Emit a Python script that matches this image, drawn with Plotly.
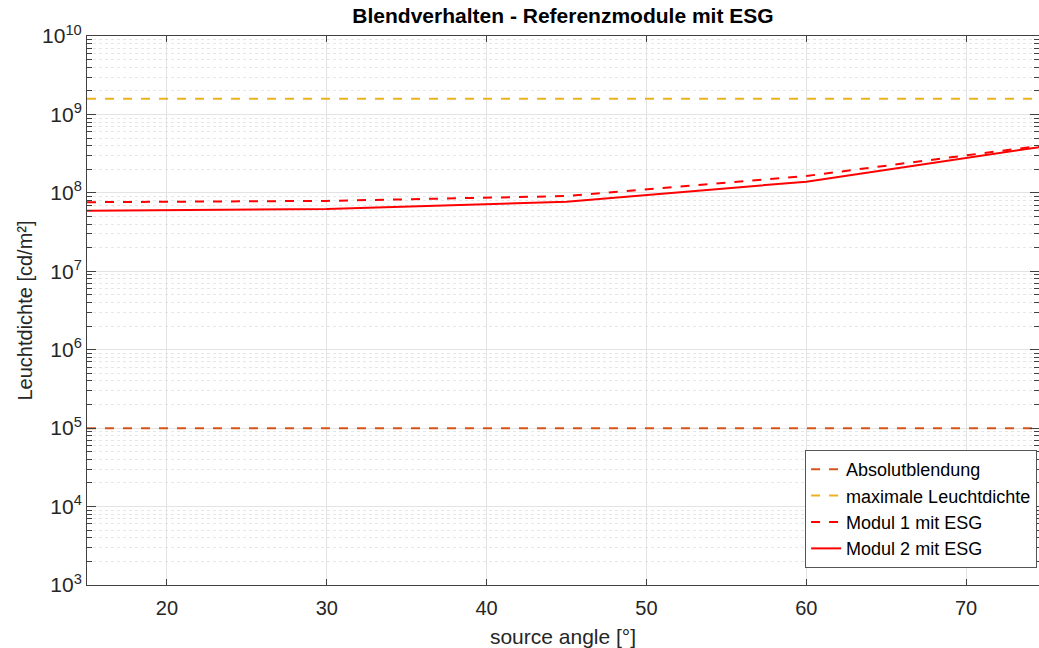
import plotly.graph_objects as go

# Data
angles = [15, 30, 45, 60, 75]
modul1 = [7.6e7, 7.9e7, 9.1e7, 1.64e8, 4.07e8]
modul2 = [5.93e7, 6.22e7, 7.7e7, 1.39e8, 3.94e8]
absolut = 1e5
max_lum = 1.59e9
x_range = [15, 74.56]
x_ticks = [20, 30, 40, 50, 60, 70]
y_decades = [3, 4, 5, 6, 7, 8, 9, 10]
y_ticktext = [f"10<sup>{d}</sup>" for d in y_decades]

orange = "#D95319"
yellow = "#EDB120"
red = "#FF0000"

fig = go.Figure()
fig.add_trace(go.Scatter(x=[x_range[0], 75], y=[absolut, absolut], mode="lines",
                         line=dict(color=orange, dash="dash", width=2), name="Absolutblendung"))
fig.add_trace(go.Scatter(x=[x_range[0], 75], y=[max_lum, max_lum], mode="lines",
                         line=dict(color=yellow, dash="dash", width=2), name="maximale Leuchtdichte"))
fig.add_trace(go.Scatter(x=angles, y=modul1, mode="lines",
                         line=dict(color=red, dash="dash", width=2), name="Modul 1 mit ESG"))
fig.add_trace(go.Scatter(x=angles, y=modul2, mode="lines",
                         line=dict(color=red, width=2), name="Modul 2 mit ESG"))

axcol = "#404040"
fig.update_layout(
    width=1039, height=648,
    margin=dict(l=87, r=0, t=36, b=63),
    paper_bgcolor="white", plot_bgcolor="white",
    font=dict(family="Liberation Sans, Arial, sans-serif", color="#262626"),
    title=dict(text="<b>Blendverhalten - Referenzmodule mit ESG</b>", x=0.5, xref="paper",
               y=1, yref="container", yanchor="top", pad=dict(t=8),
               font=dict(size=21, color="#000000")),
    showlegend=True,
    legend=dict(x=0.998, y=0.031, xanchor="right", yanchor="bottom",
                bgcolor="white", bordercolor="#555555", borderwidth=1,
                font=dict(size=18, color="#000000"), tracegroupgap=0, itemwidth=30),
)
fig.update_xaxes(
    range=x_range, tickvals=x_ticks,
    ticks="inside", ticklen=6, tickcolor=axcol, showline=True, linecolor=axcol, linewidth=1,
    mirror="ticks", showgrid=True, gridcolor="#E3E3E3", gridwidth=1, zeroline=False,
    tickfont=dict(size=20, color="#262626"), ticklabelstandoff=5,
    title=dict(text="source angle [°]", font=dict(size=21, color="#262626"), standoff=12),
)
fig.update_yaxes(
    type="log", range=[3, 10], tickvals=[10 ** d for d in y_decades], ticktext=y_ticktext,
    ticks="inside", ticklen=9, tickcolor=axcol, showline=True, linecolor=axcol, linewidth=1,
    mirror="ticks", showgrid=True, gridcolor="#E3E3E3", gridwidth=1, zeroline=False,
    tickfont=dict(size=21, color="#262626"),
    minor=dict(ticks="inside", ticklen=5, tickcolor=axcol, showgrid=True,
               gridcolor="#E6E6E6", griddash="dot", dtick="D1"),
    title=dict(text="Leuchtdichte [cd/m²]", font=dict(size=20, color="#262626"), standoff=4),
)

fig.write_html("out.html")
